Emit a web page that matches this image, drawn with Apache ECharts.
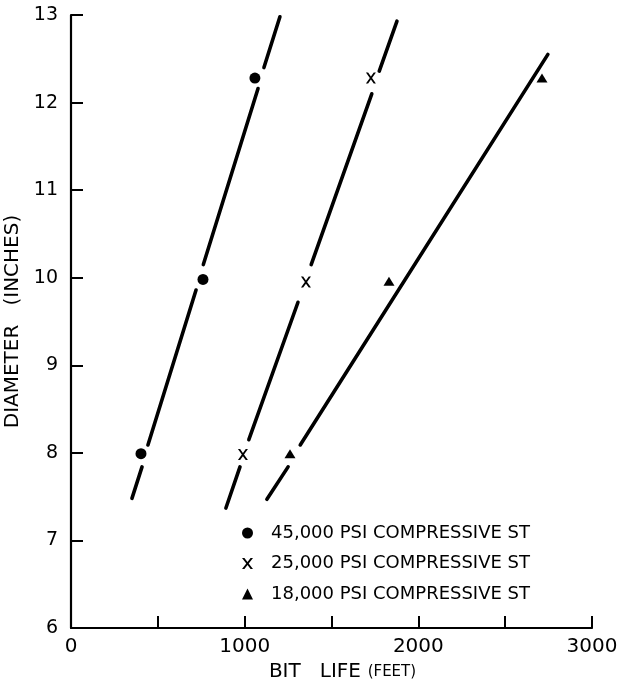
<!DOCTYPE html>
<html>
<head>
<meta charset="utf-8">
<script src="https://cdn.jsdelivr.net/npm/echarts@6/dist/echarts.min.js"></script>
<style>
  html, body { margin: 0; padding: 0; background: #fff; }
  #box1 { width: 621px; height: 685px; }
</style>
</head>
<body>
<div id="box1"></div>
<script>
var chartDom = document.getElementById('box1');
var myChart = echarts.init(chartDom);

// names shown in the legend
var seriesNames = ['45,000 PSI COMPRESSIVE ST', '25,000 PSI COMPRESSIVE ST', '18,000 PSI COMPRESSIVE ST'];

// measured points [bit life (ft), diameter (in)]
var psi45Points = [[403, 7.99], [760, 9.98], [1059, 12.28]];
var psi25Points = [[990, 7.98], [1353, 9.95], [1727, 12.28]];
var psi18Points = [[1261, 7.99], [1831, 9.96], [2712, 12.28]];

// fitted lines, drawn as pieces (broken around the markers)
var psi45Line = [
    [[351, 7.48], [409, 7.84]],
    [[443, 8.09], [720, 9.86]],
    [[762, 10.15], [1077, 12.16]],
    [[1111, 12.40], [1203, 12.98]]
];
var psi25Line = [
    [[892, 7.37], [973, 7.84]],
    [[1024, 8.15], [1307, 9.72]],
    [[1383, 10.15], [1732, 12.10]],
    [[1775, 12.36], [1877, 12.93]]
];
var psi18Line = [
    [[1128, 7.47], [1250, 7.84]],
    [[1320, 8.09], [2746, 12.55]]
];

var xPath = 'path://M0,0 L2.2,0 L5,3.6 L7.8,0 L10,0 L6.1,5 L10,10 L7.8,10 L5,6.4 L2.2,10 L0,10 L3.9,5 Z';
var fontName = 'DejaVu Sans';

function linePieces(pieces) {
    return pieces.map(function (seg) {
        return {
            type: 'line',
            data: seg,
            showSymbol: false,
            symbol: 'none',
            silent: true,
            z: 2,
            lineStyle: { color: '#000', width: 3.6, cap: 'round' }
        };
    });
}

var markStyle = { color: '#000', opacity: 1 };

var series = []
    .concat(linePieces(psi45Line))
    .concat(linePieces(psi25Line))
    .concat(linePieces(psi18Line))
    .concat([
        {
            name: seriesNames[0],
            type: 'scatter',
            symbol: 'circle',
            symbolSize: 11,
            itemStyle: markStyle,
            z: 3,
            data: psi45Points
        },
        {
            name: seriesNames[1],
            type: 'scatter',
            symbol: xPath,
            symbolSize: [10, 11],
            itemStyle: markStyle,
            z: 3,
            data: psi25Points
        },
        {
            name: seriesNames[2],
            type: 'scatter',
            symbol: 'triangle',
            symbolSize: [11, 9],
            itemStyle: markStyle,
            z: 3,
            data: psi18Points
        }
    ]);

var option = {
    animation: false,
    backgroundColor: '#fff',
    grid: {
        left: 71,
        right: 29,
        top: 15,
        bottom: 57,
        outerBoundsMode: 'none'
    },
    legend: {
        data: seriesNames,
        orient: 'vertical',
        left: 237,
        top: 519,
        itemWidth: 11,
        itemHeight: 11,
        itemGap: 12.5,
        selectedMode: false,
        textStyle: {
            color: '#000',
            fontFamily: fontName,
            fontSize: 18,
            padding: [0, 0, 0, 13]
        }
    },
    xAxis: {
        type: 'value',
        min: 0,
        max: 3000,
        interval: 500,
        name: '{a|BIT   LIFE}  {b|(FEET)}',
        nameLocation: 'middle',
        nameGap: 33,
        nameTextStyle: {
            padding: [0, 0, 0, 22],
            rich: {
                a: { fontFamily: fontName, fontSize: 20, color: '#000' },
                b: { fontFamily: fontName, fontSize: 15, color: '#000' }
            }
        },
        axisLine: { lineStyle: { color: '#000', width: 2.2 } },
        axisTick: { inside: true, length: 12, lineStyle: { color: '#000', width: 2 } },
        splitLine: { show: false },
        axisLabel: {
            color: '#000',
            fontFamily: fontName,
            fontSize: 20,
            margin: 9,
            formatter: function (v) { return v % 1000 === 0 ? String(v) : ''; }
        }
    },
    yAxis: {
        type: 'value',
        min: 6,
        max: 13,
        interval: 1,
        name: 'DIAMETER   (INCHES)',
        nameLocation: 'middle',
        nameRotate: 90,
        nameGap: 47,
        nameTextStyle: { color: '#000', fontFamily: fontName, fontSize: 20, padding: [0, 0, 0, 0] },
        axisLine: { lineStyle: { color: '#000', width: 2.2 } },
        axisTick: { inside: true, length: 12, lineStyle: { color: '#000', width: 2 } },
        splitLine: { show: false },
        axisLabel: {
            color: '#000',
            fontFamily: fontName,
            fontSize: 19,
            margin: 13
        }
    },
    series: series
};

myChart.setOption(option);
</script>
</body>
</html>
